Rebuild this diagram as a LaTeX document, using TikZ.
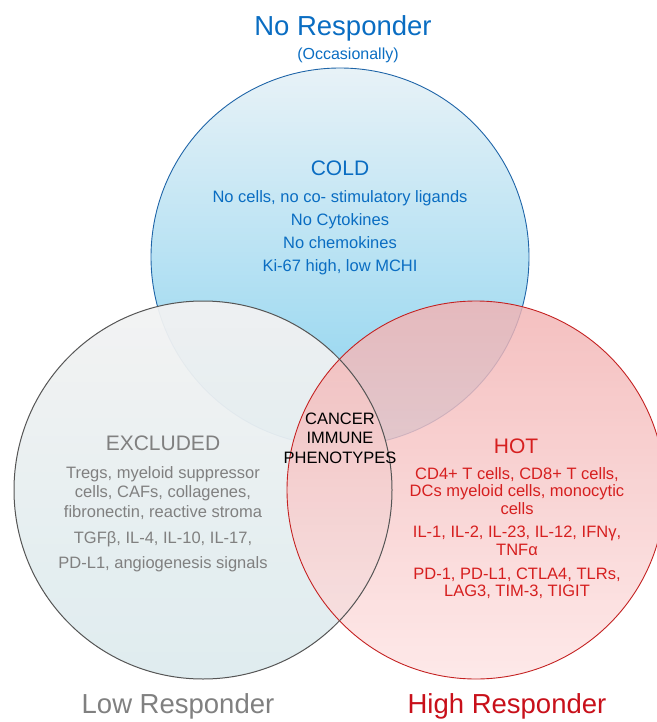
\documentclass[tikz,border=0pt]{standalone}
\usepackage{fontspec}
\setsansfont{Liberation Sans}
\usepackage{xcolor}
\usetikzlibrary{positioning}

\definecolor{coldink}{HTML}{0A6DC2}
\definecolor{excink}{HTML}{808080}
\definecolor{hotink}{HTML}{D61F1F}
\definecolor{highink}{HTML}{C8101A}
\definecolor{coldtop}{HTML}{E8F2F7}
\definecolor{coldbot}{HTML}{88D2EF}
\definecolor{coldedge}{HTML}{1F65A8}
\definecolor{exctop}{HTML}{F2F2F2}
\definecolor{excmid}{HTML}{E4E4E4}
\definecolor{excbot}{HTML}{DDEBEE}
\definecolor{excedge}{HTML}{555555}
\definecolor{hottop}{HTML}{F2B2B2}
\definecolor{hotmid}{HTML}{EC7A7A}
\definecolor{hotbot}{HTML}{FDE4E4}
\definecolor{hotedge}{HTML}{C42222}

\begin{document}
\begin{tikzpicture}[x=1pt, y=-1pt,
  ring/.style={circle, inner sep=0pt, minimum size=378pt, line width=0.9pt},
  coldring/.style={ring, draw=coldedge, top color=coldtop, bottom color=coldbot},
  excring/.style={ring, top color=exctop, middle color=excmid,
    bottom color=excbot, fill opacity=0.95},
  hotring/.style={ring, draw=hotedge, top color=hottop, middle color=hotmid,
    bottom color=hotbot, fill opacity=0.82},
  banner/.style={font=\sffamily\fontsize{27.5}{30}\selectfont},
  heading/.style={font=\sffamily\fontsize{21}{24}\selectfont},
  body/.style={align=center, inner sep=0pt}
]
\useasboundingbox (0,0) rectangle (656,722);

% the three phenotype circles
\node[coldring] (cold) at (340,257) {};
\node[excring] (excl) at (203,490) {};
\node[hotring] (hot) at (476,490) {};
\draw[excedge, line width=1pt] (excl) circle[radius=189pt];

% responder labels
\node[banner, text=coldink] (noresp) at (343,28) {No Responder};
\node[font=\sffamily\fontsize{16}{18}\selectfont, text=coldink] (occas) at (348,55) {(Occasionally)};
\node[banner, text=excink] (lowresp) at (178,706) {Low Responder};
\node[banner, text=highink] (highresp) at (507,706) {High Responder};

% cold
\node[heading, text=coldink] (coldhead) at (340,168) {COLD};
\node[body, text=coldink, font=\sffamily\fontsize{16.5}{23}\selectfont] (coldtext) at (340,233)
  {No cells, no co- stimulatory ligands\\No Cytokines\\No chemokines\\Ki-67 high, low MCHI};

% excluded
\node[heading, text=excink] (exchead) at (163,443) {EXCLUDED};
\node[body, text=excink, font=\sffamily\fontsize{16.5}{19.5}\selectfont] (exctext) at (163,519)
  {Tregs, myeloid suppressor\\cells, CAFs, collagenes,\\fibronectin, reactive stroma\\[6.5pt]
   TGFβ, IL-4, IL-10, IL-17,\\[6pt]PD-L1, angiogenesis signals};

% hot
\node[heading, text=hotink] (hothead) at (516,446) {HOT};
\node[body, text=hotink, font=\sffamily\fontsize{16.5}{17.3}\selectfont] (hottext) at (517,533)
  {CD4+ T cells, CD8+ T cells,\\DCs myeloid cells, monocytic\\cells\\[6.5pt]
   IL-1, IL-2, IL-23, IL-12, IFNγ,\\TNFα\\[6.5pt]
   PD-1, PD-L1, CTLA4, TLRs,\\LAG3, TIM-3, TIGIT};

% centre
\node[body, font=\sffamily\fontsize{16.5}{19.5}\selectfont] (centre) at (340,438)
  {CANCER\\IMMUNE\\PHENOTYPES};
\end{tikzpicture}
\end{document}
